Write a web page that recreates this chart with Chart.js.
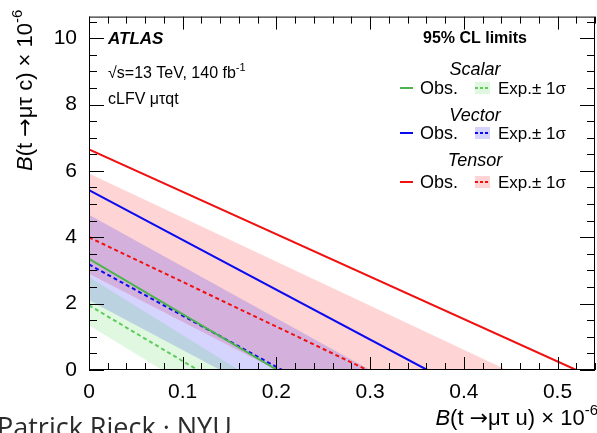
<!DOCTYPE html>
<html>
<head>
<meta charset="utf-8">
<script src="https://cdn.jsdelivr.net/npm/chart.js@4"></script>
<style>
  body { margin: 0; background: #fff; }
  canvas { display: block; }
</style>
</head>
<body>
<canvas id="Chart" width="597" height="433"></canvas>
<script>
// models: scalar, vector, tensor
var models = ['Scalar', 'Vector', 'Tensor'];
// intercepts of the limit lines: value at B(u)=0 and value at B(c)=0, in 1e-6
var obsY0 = [3.35, 5.42, 6.65];
var obsX0 = [0.201, 0.361, 0.52];
var expY0 = [1.95, 3.18, 4.0];
var expX0 = [0.116, 0.206, 0.297];
var upY0 = [2.8, 4.68, 5.92];
var upX0 = [0.16, 0.30, 0.446];
var loY0 = [1.35, 2.1, 2.9];
var loX0 = [0.078, 0.14, 0.2];

var xTicks = [0, 0.1, 0.2, 0.3, 0.4, 0.5];
var yTicks = [0, 2, 4, 6, 8, 10];

var lineColors = ['#4cb34c', '#0a0af0', '#f01010'];
var dashColors = ['#5ccc5c', '#0a0af0', '#f01010'];
var bandColors = ['rgba(0,200,0,0.12)', 'rgba(0,0,255,0.17)', 'rgba(255,0,0,0.17)'];

var FONT = '"Liberation Sans", Arial, sans-serif';

var datasets = [];
for (var i = 0; i < 3; i++) {
  datasets.push({
    label: models[i] + ' band',
    data: [{x: 0, y: upY0[i]}, {x: upX0[i], y: 0}, {x: loX0[i], y: 0}, {x: 0, y: loY0[i]}],
    fill: 'shape',
    backgroundColor: bandColors[i],
    borderWidth: 0,
    pointRadius: 0,
    order: 10
  });
}
for (var i = 0; i < 3; i++) {
  datasets.push({
    label: models[i] + ' exp',
    data: [{x: 0, y: expY0[i]}, {x: expX0[i], y: 0}],
    borderColor: dashColors[i],
    borderDash: [4, 3],
    borderWidth: 2,
    pointRadius: 0,
    fill: false,
    order: 1
  });
  datasets.push({
    label: models[i] + ' obs',
    data: [{x: 0, y: obsY0[i]}, {x: obsX0[i], y: 0}],
    borderColor: lineColors[i],
    borderWidth: 2,
    pointRadius: 0,
    fill: false,
    order: 0
  });
}

function supText(ctx, parts, x, y) {
  parts.forEach(function (p) {
    ctx.font = p[1];
    ctx.fillText(p[0], x, y + (p[2] || 0));
    x += ctx.measureText(p[0]).width;
  });
  return x;
}
function partsWidth(ctx, parts) {
  var w = 0;
  parts.forEach(function (p) { ctx.font = p[1]; w += ctx.measureText(p[0]).width; });
  return w;
}

var decor = {
  id: 'decor',
  afterDraw: function (chart) {
    var ctx = chart.ctx, a = chart.chartArea;
    var xs = chart.scales.x, ys = chart.scales.y;
    ctx.save();
    ctx.strokeStyle = '#000';
    ctx.lineWidth = 1;
    // frame
    ctx.strokeRect(a.left + 0.5, a.top + 0.5, a.right - a.left - 1, a.bottom - a.top - 1);
    ctx.beginPath();
    var v, p, len;
    for (v = 0; v <= 0.54 + 1e-9; v += 0.02) {
      p = Math.round(xs.getPixelForValue(v)) + 0.5;
      len = (Math.abs(v * 10 - Math.round(v * 10)) < 1e-6) ? 13 : 7;
      ctx.moveTo(p, a.bottom); ctx.lineTo(p, a.bottom - len);
      ctx.moveTo(p, a.top); ctx.lineTo(p, a.top + len);
    }
    for (v = 0; v <= 10.65; v += 0.5) {
      p = Math.round(ys.getPixelForValue(v)) + 0.5;
      len = (v % 2 === 0) ? 15 : 8;
      ctx.moveTo(a.left, p); ctx.lineTo(a.left + len, p);
      ctx.moveTo(a.right, p); ctx.lineTo(a.right - len, p);
    }
    ctx.stroke();

    ctx.fillStyle = '#000';
    ctx.textBaseline = 'alphabetic';
    ctx.textAlign = 'left';
    // ATLAS block
    ctx.font = 'italic bold 17px ' + FONT;
    ctx.fillText('ATLAS', 108, 44);
    supText(ctx, [['\u221As=13 TeV, 140 fb', '16px ' + FONT], ['-1', '11px ' + FONT, -7]], 108, 78);
    ctx.font = '16px ' + FONT;
    ctx.fillText('cLFV \u03BC\u03C4qt', 108, 104);

    // legend
    ctx.textAlign = 'center';
    ctx.font = 'bold 16px ' + FONT;
    ctx.fillText('95% CL limits', 475, 43);
    var headY = [69, 115, 160], rowY = [88, 133, 182];
    for (var i = 0; i < 3; i++) {
      ctx.textAlign = 'center';
      ctx.font = 'italic 18px ' + FONT;
      ctx.fillText(models[i], 475, headY[i] + 6);
      ctx.textAlign = 'left';
      ctx.font = '18px ' + FONT;
      ctx.fillText('Obs.', 420, rowY[i] + 6);
      ctx.font = '17px ' + FONT;
      ctx.fillText('Exp.\u00B1 1\u03C3', 498, rowY[i] + 6);
      ctx.strokeStyle = lineColors[i];
      ctx.lineWidth = 2;
      ctx.setLineDash([]);
      ctx.beginPath(); ctx.moveTo(400, rowY[i]); ctx.lineTo(413, rowY[i]); ctx.stroke();
      ctx.fillStyle = bandColors[i];
      ctx.fillRect(475, rowY[i] - 6, 15, 12);
      ctx.strokeStyle = dashColors[i];
      ctx.setLineDash([3, 2]);
      ctx.beginPath(); ctx.moveTo(475, rowY[i]); ctx.lineTo(490, rowY[i]); ctx.stroke();
      ctx.setLineDash([]);
      ctx.fillStyle = '#000';
    }

    // axis titles
    var it = 'italic 22px ' + FONT, rg = '22px ' + FONT, sp = '15px ' + FONT;
    var ar = '22px "DejaVu Sans", sans-serif';
    var xParts = [['B', it], ['(t ', rg], ['\u2192', ar], ['\u03BC\u03C4 u) \u00D7 10', rg], ['-6', sp, -10]];
    var w = partsWidth(ctx, xParts);
    supText(ctx, xParts, 598 - w, 425);
    ctx.save();
    ctx.translate(32, 171);
    ctx.rotate(-Math.PI / 2);
    supText(ctx, [['B', it], ['(t ', rg], ['\u2192', ar], ['\u03BC\u03C4 c) \u00D7 10', rg], ['-6', sp, -10]], 0, 0);
    ctx.restore();

    // footer
    ctx.fillStyle = '#2b2b2b';
    ctx.font = '27px "Open Sans", Lato, sans-serif';
    ctx.fillText('Patrick Rieck \u00B7 NYU', -3, 437);
    ctx.restore();
  }
};

var chart = new Chart('Chart', {
  type: 'line',
  data: { datasets: datasets },
  options: {
    responsive: false,
    animation: false,
    devicePixelRatio: 1,
    layout: { padding: { top: 8, right: 2, left: 0, bottom: 0 } },
    plugins: {
      legend: { display: false },
      tooltip: { enabled: false },
      filler: { drawTime: 'beforeDatasetsDraw' }
    },
    scales: {
      x: {
        type: 'linear',
        min: 0,
        max: 0.54,
        grid: { display: false },
        border: { display: false },
        afterFit: function (s) { s.height = 63; },
        afterBuildTicks: function (s) { s.ticks = xTicks.map(function (v) { return {value: v}; }); },
        ticks: {
          color: '#000',
          font: { family: FONT, size: 21 },
          padding: 2,
          maxRotation: 0,
          autoSkip: false,
          callback: function (v) { return String(v); }
        }
      },
      y: {
        type: 'linear',
        min: 0,
        max: 10.65,
        grid: { display: false },
        border: { display: false },
        afterFit: function (s) { s.width = 89; },
        afterBuildTicks: function (s) { s.ticks = yTicks.map(function (v) { return {value: v}; }); },
        ticks: {
          color: '#000',
          font: { family: FONT, size: 21 },
          padding: 4,
          callback: function (v) { return String(v); }
        }
      }
    }
  },
  plugins: [decor]
});
</script>
</body>
</html>
